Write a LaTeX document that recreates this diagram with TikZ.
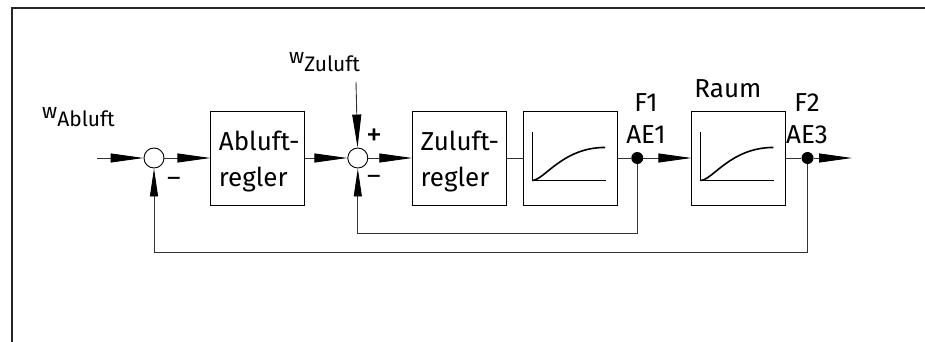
\documentclass[tikz,border=0pt]{standalone}
\usepackage{fontspec}
\setmainfont{Fira Sans}
\usetikzlibrary{arrows.meta, positioning, calc}

% step response drawn inside a block
\newcommand{\ptcurve}[1]{%
  \draw[axis] ([shift={(9,-73)}]#1.south west) |- ([shift={(83,-25)}]#1.south west);
  \draw[resp] ([shift={(9,-25)}]#1.south west) .. controls +(12,0) and +(-43,0) .. ([shift={(82,-58)}]#1.south west);
}

\begin{document}
\begin{tikzpicture}[x=1pt, y=-1pt,
    block/.style={rectangle, draw=black, line width=0.9pt, minimum width=94pt, minimum height=94pt, text width=78pt, align=left, inner sep=0pt, text height=27pt, font=\fontsize{26}{36}\selectfont},
    junction/.style={circle, draw=black, line width=0.9pt, minimum size=20pt, inner sep=0pt},
    tap/.style={circle, fill=black, minimum size=12pt, inner sep=0pt},
    wire/.style={draw=black!80, line width=0.9pt},
    sig/.style={wire, -{Triangle[length=33pt, width=9pt, color=black]}},
    fb/.style={wire, -{Triangle[length=28pt, width=8pt, color=black]}},
    axis/.style={draw=black, line width=1pt},
    resp/.style={draw=black, line width=1.6pt},
    lbl/.style={font=\fontsize{26}{30}\selectfont, inner sep=0pt},
    sign/.style={font=\fontsize{32}{34}\selectfont, inner sep=0pt},
    setp/.style={font=\fontsize{21}{24}\selectfont, inner sep=0pt, anchor=base west},
    frame/.style={draw=black!85, line width=1.6pt}
]
\useasboundingbox (0,0) rectangle (925,342);
\draw[frame] (12,342) -- (12,8) -- (925,8);

% main path
\node[junction] (sum1) at (154,158) {};
\node[block, right=46pt of sum1] (abl) {\mbox{Abluft-}\\regler};
\node[junction, right=42pt of abl] (sum2) {};
\node[block, right=44pt of sum2] (zul) {\mbox{Zuluft-}\\regler};
\node[block, right=16pt of zul] (strecke) {};
\node[tap, right=13pt of strecke] (f1) {};
\node[block, right=48pt of f1] (raum) {};
\node[tap, right=15pt of raum] (f2) {};
\coordinate (ein) at (97,158);
\coordinate (aus) at (852,158);
\coordinate (wz) at (356,82);

\ptcurve{strecke}
\ptcurve{raum}

% labels
\node[setp] (wab) at (42,126) {\raisebox{8pt}{w}Abluft};
\node[setp] (wzu) at (289,72) {\raisebox{8pt}{w}Zuluft};
\node[lbl, anchor=base] (f1name) at (646,112) {F1};
\node[lbl, anchor=base] (f1ae) at (646,143) {AE1};
\node[lbl, anchor=base] (raumname) at (728,98) {Raum};
\node[lbl, anchor=base] (f2name) at (807,112) {F2};
\node[lbl, anchor=base] (f2ae) at (807,143) {AE3};
\node[sign, font=\fontsize{26}{28}\selectfont] (minus1) at (174,182) {–};
\node[sign] (plus2) at (374,137) {+};
\node[sign, font=\fontsize{26}{28}\selectfont] (minus2) at (374,180) {–};

% connections
\draw[sig] (ein) -- (sum1);
\draw[sig] (sum1) -- (abl);
\draw[sig] (abl) -- (sum2);
\draw[sig] (sum2) -- (zul);
\draw[wire] (zul) -- (strecke);
\draw[wire] (strecke) -- (f1);
\draw[sig] (f1) -- (raum);
\draw[wire] (raum) -- (f2);
\draw[sig] (f2) -- (aus);
\draw[sig] (wz) -- (sum2);
\draw[fb] (f1) -- ++(0,75) -| (sum2);
\draw[fb] (f2) -- ++(0,94) -| (sum1);
\end{tikzpicture}
\end{document}
